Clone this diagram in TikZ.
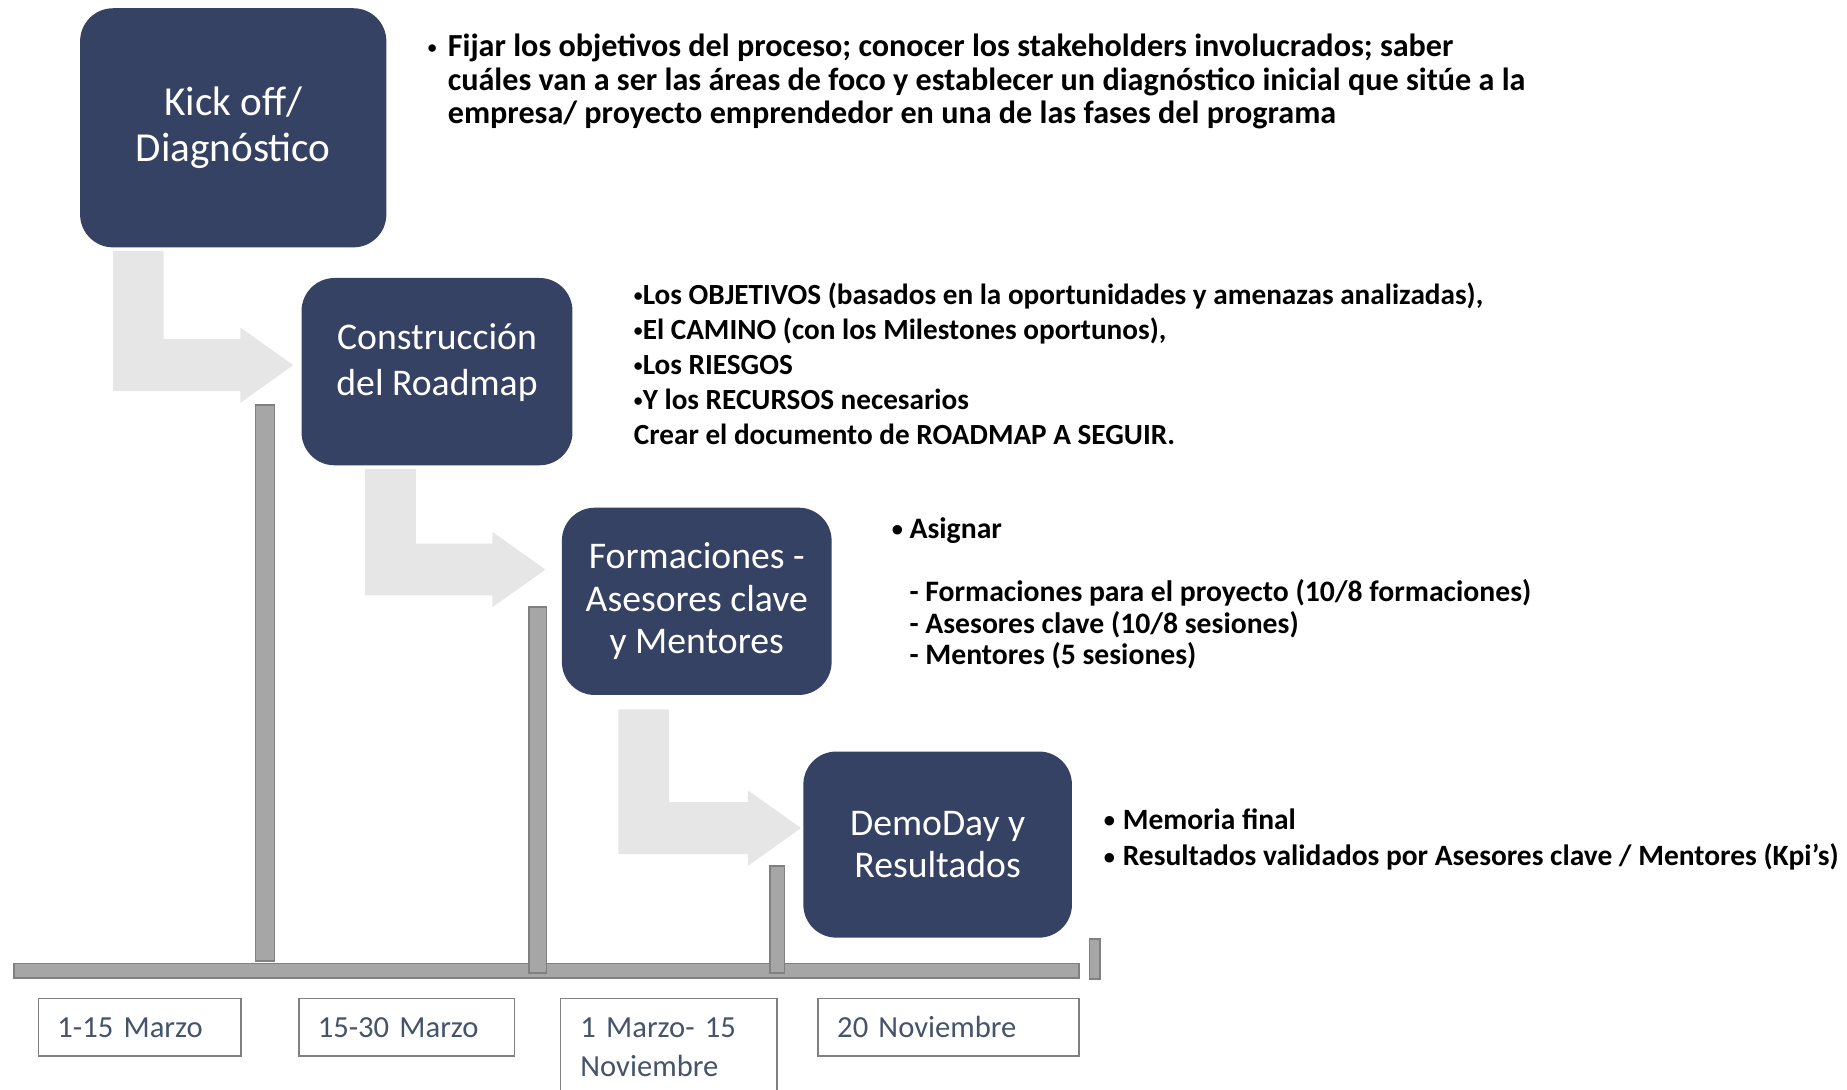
\documentclass[tikz,border=0pt]{standalone}
\usepackage{fontspec}
\setmainfont{Carlito}
\usepackage{xcolor}
\usetikzlibrary{calc,positioning}
\definecolor{navy}{RGB}{54,66,100}
\definecolor{flowgray}{RGB}{230,230,230}
\definecolor{postgray}{RGB}{166,166,166}
\definecolor{postedge}{RGB}{128,128,128}
\definecolor{datetext}{RGB}{68,84,106}
\tikzset{
    phase/.style={rectangle, rounded corners=28pt, fill=navy, text=white, align=center, inner sep=0pt, font=\fontsize{32}{36}\selectfont},
    flow/.style={fill=flowgray},
    post/.style={fill=postgray, draw=postedge, line width=1.5pt},
    datebox/.style={draw=postedge, line width=1.5pt, fill=white, anchor=north west, inner xsep=16pt, inner ysep=0pt, text=datetext, align=left, font=\fontsize{26}{33}\selectfont},
    note/.style={anchor=base west, inner sep=0pt, align=left}
}
\newcommand{\dotmark}[2]{\raisebox{#2}{\fontsize{#1}{#1}\selectfont •}}
\newcommand{\bul}[3]{\llap{\makebox[#1][l]{\dotmark{#2}{#3}}}}
% bent block arrow: source node, stem x, gap, tip
\newcommand{\bentarrow}[4]{%
    \fill[flow] (#2,0 |- #1.south) ++(0,#3) coordinate (s) -- ++(43,0) |- ($(#4)+(-45,-22)$) -- ++(0,-10) -- (#4) -- ++(-45,32) -- ++(0,-10) -| (s) -- cycle;}

\begin{document}
\begin{tikzpicture}[x=1pt, y=-1pt]
    \useasboundingbox (0,0) rectangle (1568,925);
    \clip (0,0) rectangle (1568,925);

    \node[phase, minimum width=260pt, minimum height=203pt, font=\fontsize{35}{39}\selectfont] (kick) at (198,108.5) {Kick off/\\Diagnóstico};
    \node[phase, minimum width=230pt, minimum height=159pt, text depth=20pt, font=\fontsize{32}{39}\selectfont] (roadmap) at (371,315.5) {Construcción\\del Roadmap};
    \node[phase, minimum width=229pt, minimum height=159pt] (training) at (591.5,510.5) {Formaciones -\\Asesores clave\\y Mentores};
    \node[phase, minimum width=228pt, minimum height=158pt] (demoday) at (796,717) {DemoDay y\\Resultados};

    \coordinate (tip1) at (249,310);
    \coordinate (tip2) at (463,483.5);
    \coordinate (tip3) at (680,703);
    \bentarrow{kick}{96}{3}{tip1}
    \bentarrow{roadmap}{310}{3}{tip2}
    \bentarrow{training}{525}{12}{tip3}

    % timeline
    \draw[post] (12,818) rectangle (916,830);
    \draw[post] (217,344) rectangle (233,816);
    \draw[post] (449,515) rectangle (464,826);
    \draw[post] (654,735) rectangle (666,826);
    \draw[post] (925,797) rectangle (934,831);

    \node[datebox, minimum width=172pt, minimum height=49pt, text width=140pt] (d1) at (32,847) {1-15 Marzo};
    \node[datebox, minimum width=183pt, minimum height=49pt, text width=151pt] (d2) at (253,847) {15-30 Marzo};
    \node[datebox, minimum width=184pt, minimum height=83pt, text width=150pt, inner xsep=17pt] (d3) at (475,847) {1 Marzo- 15\\Noviembre};
    \node[datebox, minimum width=221pt, minimum height=49pt, text width=189pt] (d4) at (694,847) {20 Noviembre};

    \node[note, font=\bfseries\fontsize{27.3}{28.5}\selectfont] (n1) at (380,105) {\bul{17pt}{15}{3pt}Fijar los objetivos del proceso; conocer los stakeholders involucrados; saber\\cuáles van a ser las áreas de foco y establecer un diagnóstico inicial que sitúe a la\\empresa/ proyecto emprendedor en una de las fases del programa};
    \node[note, font=\bfseries\fontsize{24.8}{29.7}\selectfont] (n2) at (538,377) {\dotmark{15}{2.5pt}Los OBJETIVOS (basados en la oportunidades y amenazas analizadas),\\\dotmark{15}{2.5pt}El CAMINO (con los Milestones oportunos),\\\dotmark{15}{2.5pt}Los RIESGOS\\\dotmark{15}{2.5pt}Y los RECURSOS necesarios\\Crear el documento de ROADMAP A SEGUIR.};
    \node[note, font=\bfseries\fontsize{25.2}{26.5}\selectfont] (n3) at (772,564) {\bul{15pt}{19}{1.5pt}Asignar\\[27.5pt]- Formaciones para el proyecto (10/8 formaciones)\\- Asesores clave (10/8 sesiones)\\- Mentores (5 sesiones)};
    \node[note, font=\bfseries\fontsize{25}{31}\selectfont] (n4) at (953,735) {\bul{16pt}{19}{1.5pt}Memoria final\\\bul{16pt}{19}{1.5pt}Resultados validados por Asesores clave / Mentores (Kpi’s)};
\end{tikzpicture}
\end{document}
